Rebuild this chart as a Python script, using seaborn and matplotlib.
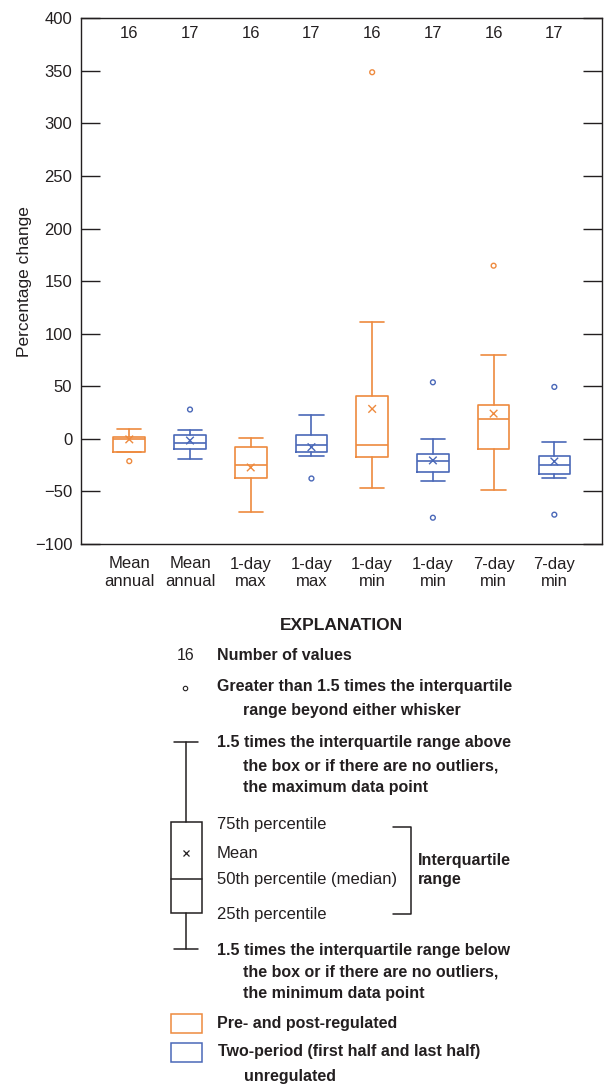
import matplotlib
matplotlib.use("Agg")
import matplotlib.pyplot as plt
from matplotlib.patches import Rectangle
import seaborn as sns
import pandas as pd

# ---- data -------------------------------------------------------------
categories = ["Mean\nannual", "Mean\nannual", "1-day\nmax", "1-day\nmax",
              "1-day\nmin", "1-day\nmin", "7-day\nmin", "7-day\nmin"]
groups = ["Pre- and post-regulated", "Two-period unregulated"] * 4
counts = [16, 17, 16, 17, 16, 17, 16, 17]
whisker_low = [-12.7, -19.0, -69.3, -16.1, -47.1, -40.1, -48.7, -37.2]
q1 = [-12.7, -9.8, -37.7, -12.7, -17.3, -31.1, -9.3, -33.3]
median = [0.0, -3.5, -24.4, -5.7, -5.4, -21.1, 18.9, -25.3]
q3 = [2.2, 3.2, -8.2, 3.2, 40.7, -14.4, 32.1, -16.0]
whisker_high = [9.5, 8.9, 0.6, 22.5, 110.9, -0.6, 79.8, -2.6]
means = [-0.5, -1.6, -27.2, -7.9, 28.5, -20.5, 24.0, -21.5]
outliers = [[-21.2], [27.9], [], [-37.7], [348.7], [53.8, -75.0],
            [164.7], [49.4, -72.1]]
y_ticks = [-100, -50, 0, 50, 100, 150, 200, 250, 300, 350, 400]

ORANGE = "#EE8A3E"
BLUE = "#4A68B8"
INK = "#231F20"
palette = {"Pre- and post-regulated": ORANGE, "Two-period unregulated": BLUE}

sns.set_theme(style="ticks")
FONT = ["Liberation Sans Narrow", "Liberation Sans", "DejaVu Sans"]
plt.rcParams["font.family"] = FONT
plt.rcParams["font.size"] = 12
plt.rcParams["text.color"] = INK
plt.rcParams["axes.edgecolor"] = INK
plt.rcParams["xtick.color"] = INK
plt.rcParams["ytick.color"] = INK
plt.rcParams["axes.labelcolor"] = INK

W, H = 606, 1084
fig = plt.figure(figsize=(W / 100, H / 100), dpi=100)
ax = fig.add_axes([80.7 / W, 1 - 544 / H, (601.7 - 80.7) / W, (544 - 18.3) / H])

positions = list(range(len(categories)))
stats = []
for i in positions:
    stats.append(dict(med=median[i], q1=q1[i], q3=q3[i],
                      whislo=whisker_low[i], whishi=whisker_high[i],
                      fliers=[], label=categories[i]))

artists = ax.bxp(stats, positions=positions, widths=0.52, capwidths=0.4,
                 showfliers=False, patch_artist=False)
for i in positions:
    c = palette[groups[i]]
    for key in ("boxes", "medians"):
        artists[key][i].set_color(c)
        artists[key][i].set_linewidth(1.2)
    for key in ("whiskers", "caps"):
        for art in artists[key][2 * i:2 * i + 2]:
            art.set_color(c)
            art.set_linewidth(1.2)

# means and outliers via seaborn
mean_df = pd.DataFrame({"x": positions, "y": means, "group": groups})
sns.scatterplot(data=mean_df, x="x", y="y", hue="group", palette=palette,
                marker="x", s=30, linewidth=1.0, legend=False, ax=ax, zorder=5)
out_rows = [(i, v, groups[i]) for i in positions for v in outliers[i]]
out_df = pd.DataFrame(out_rows, columns=["x", "y", "group"])
sns.scatterplot(data=out_df, x="x", y="y", hue="group", palette=palette,
                marker="o", s=12, facecolor="none", legend=False, ax=ax,
                zorder=5)
for coll in ax.collections[-1:]:
    coll.set_facecolor("none")
    coll.set_edgecolor([palette[g] for g in out_df["group"]])
    coll.set_linewidth(1.0)

for i in positions:
    ax.text(i, 386, str(counts[i]), ha="center", va="center", fontsize=12)

ax.set_xlim(-0.8, 7.78)
ax.set_ylim(-100, 400)
ax.set_yticks(y_ticks)
ax.set_xticks(positions)
ax.set_xticklabels(categories, linespacing=1.2)
ax.set_xlabel("")
ax.set_ylabel("Percentage change", fontsize=12.5, labelpad=2,
              family=["Liberation Sans", "DejaVu Sans"])
ax.tick_params(axis="y", direction="in", length=14, width=1.0, right=True,
               labelsize=12, pad=6)
ax.tick_params(axis="x", length=0, labelsize=12, pad=9)
for s in ax.spines.values():
    s.set_visible(True)
    s.set_linewidth(1.0)

# ---- explanation panel -------------------------------------------------
lg = fig.add_axes([0, 0, 1, 1])
lg.set_xlim(0, W)
lg.set_ylim(H, 0)
lg.axis("off")
lg.patch.set_visible(False)

LW = 1.1
def t(x, y, s, bold=True, **kw):
    lg.text(x, y, s, ha=kw.pop("ha", "left"), va="center",
            fontweight="bold" if bold else "normal", fontsize=kw.pop("fs", 11.5), **kw)

t(341.7, 625, "EXPLANATION", ha="center", fs=12.5)
t(186, 656, "16", bold=False, ha="center", fs=11.5)
t(216.7, 656, "Number of values")
lg.plot([185], [688], marker="o", ms=3.2, mfc="none", mec=INK, mew=0.8)
t(216.7, 687, "Greater than 1.5 times the interquartile")
t(242.7, 710, "range beyond either whisker")

# box glyph
lg.plot([174, 197.7], [741.7, 741.7], color=INK, lw=LW)
lg.plot([186, 186], [741.7, 822], color=INK, lw=LW)
lg.add_patch(Rectangle((171, 822), 31.3, 91.3, fill=False, ec=INK, lw=LW))
lg.plot([171, 202.3], [878.7, 878.7], color=INK, lw=LW)
lg.plot([186], [853.3], marker="x", ms=5, mec=INK, mew=0.9)
lg.plot([186, 186], [913.3, 949.3], color=INK, lw=LW)
lg.plot([174, 197.7], [949.3, 949.3], color=INK, lw=LW)

t(216.7, 743, "1.5 times the interquartile range above")
t(242.7, 765.7, "the box or if there are no outliers,")
t(242.7, 787.7, "the maximum data point")
t(216.7, 824, "75th percentile", bold=False, fs=12)
t(216.7, 853.3, "Mean", bold=False, fs=12)
t(216.7, 879.3, "50th percentile (median)", bold=False, fs=12)
t(216.7, 914, "25th percentile", bold=False, fs=12)
lg.plot([393.3, 410.7, 410.7, 393.3], [826.7, 826.7, 914, 914], color=INK, lw=LW)
t(418.3, 860, "Interquartile")
t(418.3, 879.3, "range")
t(216.7, 950, "1.5 times the interquartile range below")
t(242.7, 972.3, "the box or if there are no outliers,")
t(242.7, 993.3, "the minimum data point")

lg.add_patch(Rectangle((171, 1014), 31.3, 18.7, fill=False, ec=ORANGE, lw=LW))
t(216.7, 1023.3, "Pre- and post-regulated")
lg.add_patch(Rectangle((171, 1042.7), 31.3, 19, fill=False, ec=BLUE, lw=LW))
t(218.3, 1051.7, "Two-period (first half and last half)")
t(244.3, 1076, "unregulated")

fig.savefig("out.png", dpi=100)
